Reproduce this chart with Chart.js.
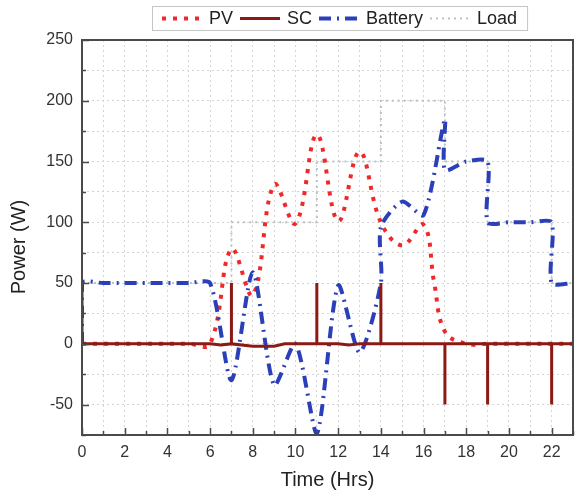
<!DOCTYPE html>
<html>
<head>
<meta charset="utf-8">
<script src="https://cdn.jsdelivr.net/npm/chart.js@4.4.1/dist/chart.umd.min.js"></script>
<style>
  html, body { margin: 0; padding: 0; background: #fff; }
</style>
</head>
<body>
<canvas id="chart" width="575" height="493"></canvas>
<script>
// values (hours, W)
const pvHours = [0, 1, 2, 3, 4, 5, 6, 7, 8, 9, 10, 11, 12, 13, 14, 15, 16, 16.5, 17, 18, 19, 20, 21, 22, 23];
const pvPower = [0, 0, 0, 0, 0, 0, 0, 78, 40, 131, 99, 172, 101, 158, 100, 81, 98, 50, 10, 0, 0, 0, 0, 0, 0];

const scHours = [0, 0, 6, 6.5, 7, 7, 7, 8, 9, 9.5, 11, 11, 11, 12, 12.5, 13, 14, 14, 14, 17, 17, 17, 19, 19, 19, 22, 22, 22, 23];
const scPower = [50, 0, 0, -1, 0, 50, 0, -2, -2, 0, 0, 50, 0, 0, -1, 0, 0, 50, 0, 0, -50, 0, 0, -50, 0, 0, -50, 0, 0];

const batteryHours = [0, 0, 1, 2, 3, 4, 5, 6, 7, 8, 9, 10, 11, 12, 13, 14, 14, 15, 16, 17, 17, 18, 19, 19, 20, 21, 22, 22, 23];
const batteryPower = [0, 50, 50, 50, 50, 50, 50, 50, -30, 59, -34, 0, -74, 48, -7, 50, 96, 117, 106, 185, 143, 150, 150, 100, 100, 100, 100, 50, 50];

const loadHours = [0, 7, 7, 11, 11, 14, 14, 17, 17, 19, 19, 22, 22, 23];
const loadPower = [50, 50, 100, 100, 150, 150, 200, 200, 150, 150, 100, 100, 50, 50];

const xTicks = { min: 0, max: 23, step: 1, labelEvery: 2 };
const yTicks = { min: -75, max: 250, step: 25, labelEvery: 50 };

const FONT = "'Liberation Sans', Arial, sans-serif";

const toPoints = (xs, ys) => xs.map((x, i) => ({ x, y: ys[i] }));

// frame, inward tick marks, y title and the boxed legend
const decorations = {
  id: 'decorations',
  afterDraw(chart) {
    const { ctx, chartArea: a, scales } = chart;
    ctx.save();
    ctx.strokeStyle = '#4a4a4a';
    ctx.lineWidth = 1.5;

    for (let v = xTicks.min; v <= xTicks.max; v += xTicks.step) {
      const px = Math.round(scales.x.getPixelForValue(v)) + 0.5;
      const len = v % xTicks.labelEvery === 0 ? 7 : 4;
      ctx.beginPath();
      ctx.moveTo(px, a.bottom);
      ctx.lineTo(px, a.bottom - len);
      ctx.stroke();
    }
    for (let v = yTicks.min; v <= yTicks.max; v += yTicks.step) {
      const py = Math.round(scales.y.getPixelForValue(v)) + 0.5;
      const len = v % yTicks.labelEvery === 0 ? 7 : 4;
      ctx.beginPath();
      ctx.moveTo(a.left, py);
      ctx.lineTo(a.left + len, py);
      ctx.stroke();
    }

    ctx.lineWidth = 2;
    ctx.strokeRect(a.left, a.top, a.right - a.left, a.bottom - a.top);

    // y axis title
    ctx.save();
    ctx.translate(19, 247);
    ctx.rotate(-Math.PI / 2);
    ctx.font = '20px ' + FONT;
    ctx.fillStyle = '#222';
    ctx.textAlign = 'center';
    ctx.textBaseline = 'middle';
    ctx.fillText('Power (W)', 0, 0);
    ctx.restore();

    // legend
    ctx.font = '18px ' + FONT;
    ctx.textBaseline = 'middle';
    const sample = 40, gap = 7, pad = 10;
    const items = chart.data.datasets;
    let total = pad * 2 - gap;
    items.forEach(d => { total += sample + gap + ctx.measureText(d.label).width + gap; });
    const boxX = 152, boxY = 6.5, boxH = 24;
    ctx.fillStyle = '#fff';
    ctx.fillRect(boxX, boxY, total, boxH);
    ctx.strokeStyle = '#c4c4c4';
    ctx.lineWidth = 1;
    ctx.strokeRect(boxX + 0.5, boxY, total, boxH);

    let x = boxX + pad;
    const cy = boxY + boxH / 2;
    items.forEach(d => {
      ctx.save();
      ctx.strokeStyle = d.borderColor;
      ctx.lineWidth = d.borderWidth;
      ctx.setLineDash(d.borderDash || []);
      ctx.beginPath();
      ctx.moveTo(x, cy);
      ctx.lineTo(x + sample, cy);
      ctx.stroke();
      ctx.restore();
      x += sample + gap;
      ctx.fillStyle = '#222';
      ctx.fillText(d.label, x, cy + 1);
      x += ctx.measureText(d.label).width + gap;
    });
    ctx.restore();
  }
};

new Chart(document.getElementById('chart'), {
  type: 'line',
  data: {
    datasets: [
      {
        label: 'PV',
        data: toPoints(pvHours, pvPower),
        borderColor: '#f0282a',
        borderWidth: 4,
        borderDash: [4, 7],
        tension: 0.4,
        order: 2
      },
      {
        label: 'SC',
        data: toPoints(scHours, scPower),
        borderColor: '#8c1a14',
        borderWidth: 3,
        tension: 0,
        order: 0
      },
      {
        label: 'Battery',
        data: toPoints(batteryHours, batteryPower),
        borderColor: '#2a3fb8',
        borderWidth: 4,
        borderDash: [12, 6, 2, 6],
        tension: 0.25,
        order: 1
      },
      {
        label: 'Load',
        data: toPoints(loadHours, loadPower),
        borderColor: '#b9c2c4',
        borderWidth: 2,
        borderDash: [2, 4],
        tension: 0,
        order: 3
      }
    ]
  },
  options: {
    responsive: false,
    animation: false,
    elements: { point: { radius: 0 } },
    layout: { padding: { top: 40, right: 2, left: 0, bottom: 0 } },
    plugins: {
      legend: { display: false },
      tooltip: { enabled: false }
    },
    scales: {
      x: {
        type: 'linear',
        min: xTicks.min,
        max: xTicks.max,
        afterFit: s => { s.height = 58; s.paddingLeft = 0; s.paddingRight = 0; },
        ticks: {
          stepSize: xTicks.step,
          autoSkip: false,
          maxRotation: 0,
          padding: 8,
          color: '#333',
          font: { family: FONT, size: 16 },
          callback: v => (v % xTicks.labelEvery === 0 ? v : '')
        },
        grid: { color: '#d4d4d4', lineWidth: 1, drawTicks: false },
        border: { display: false, dash: [2, 3] },
        title: {
          display: true,
          text: 'Time (Hrs)',
          color: '#222',
          font: { family: FONT, size: 20 },
          padding: { top: 0, bottom: 1 }
        }
      },
      y: {
        type: 'linear',
        min: yTicks.min,
        max: yTicks.max,
        afterFit: s => { s.width = 82; },
        ticks: {
          stepSize: yTicks.step,
          autoSkip: false,
          padding: 9,
          color: '#333',
          font: { family: FONT, size: 16 },
          callback: v => (v % yTicks.labelEvery === 0 ? v : '')
        },
        grid: { color: '#d4d4d4', lineWidth: 1, drawTicks: false },
        border: { display: false, dash: [2, 3] }
      }
    }
  },
  plugins: [decorations]
});
</script>
</body>
</html>
